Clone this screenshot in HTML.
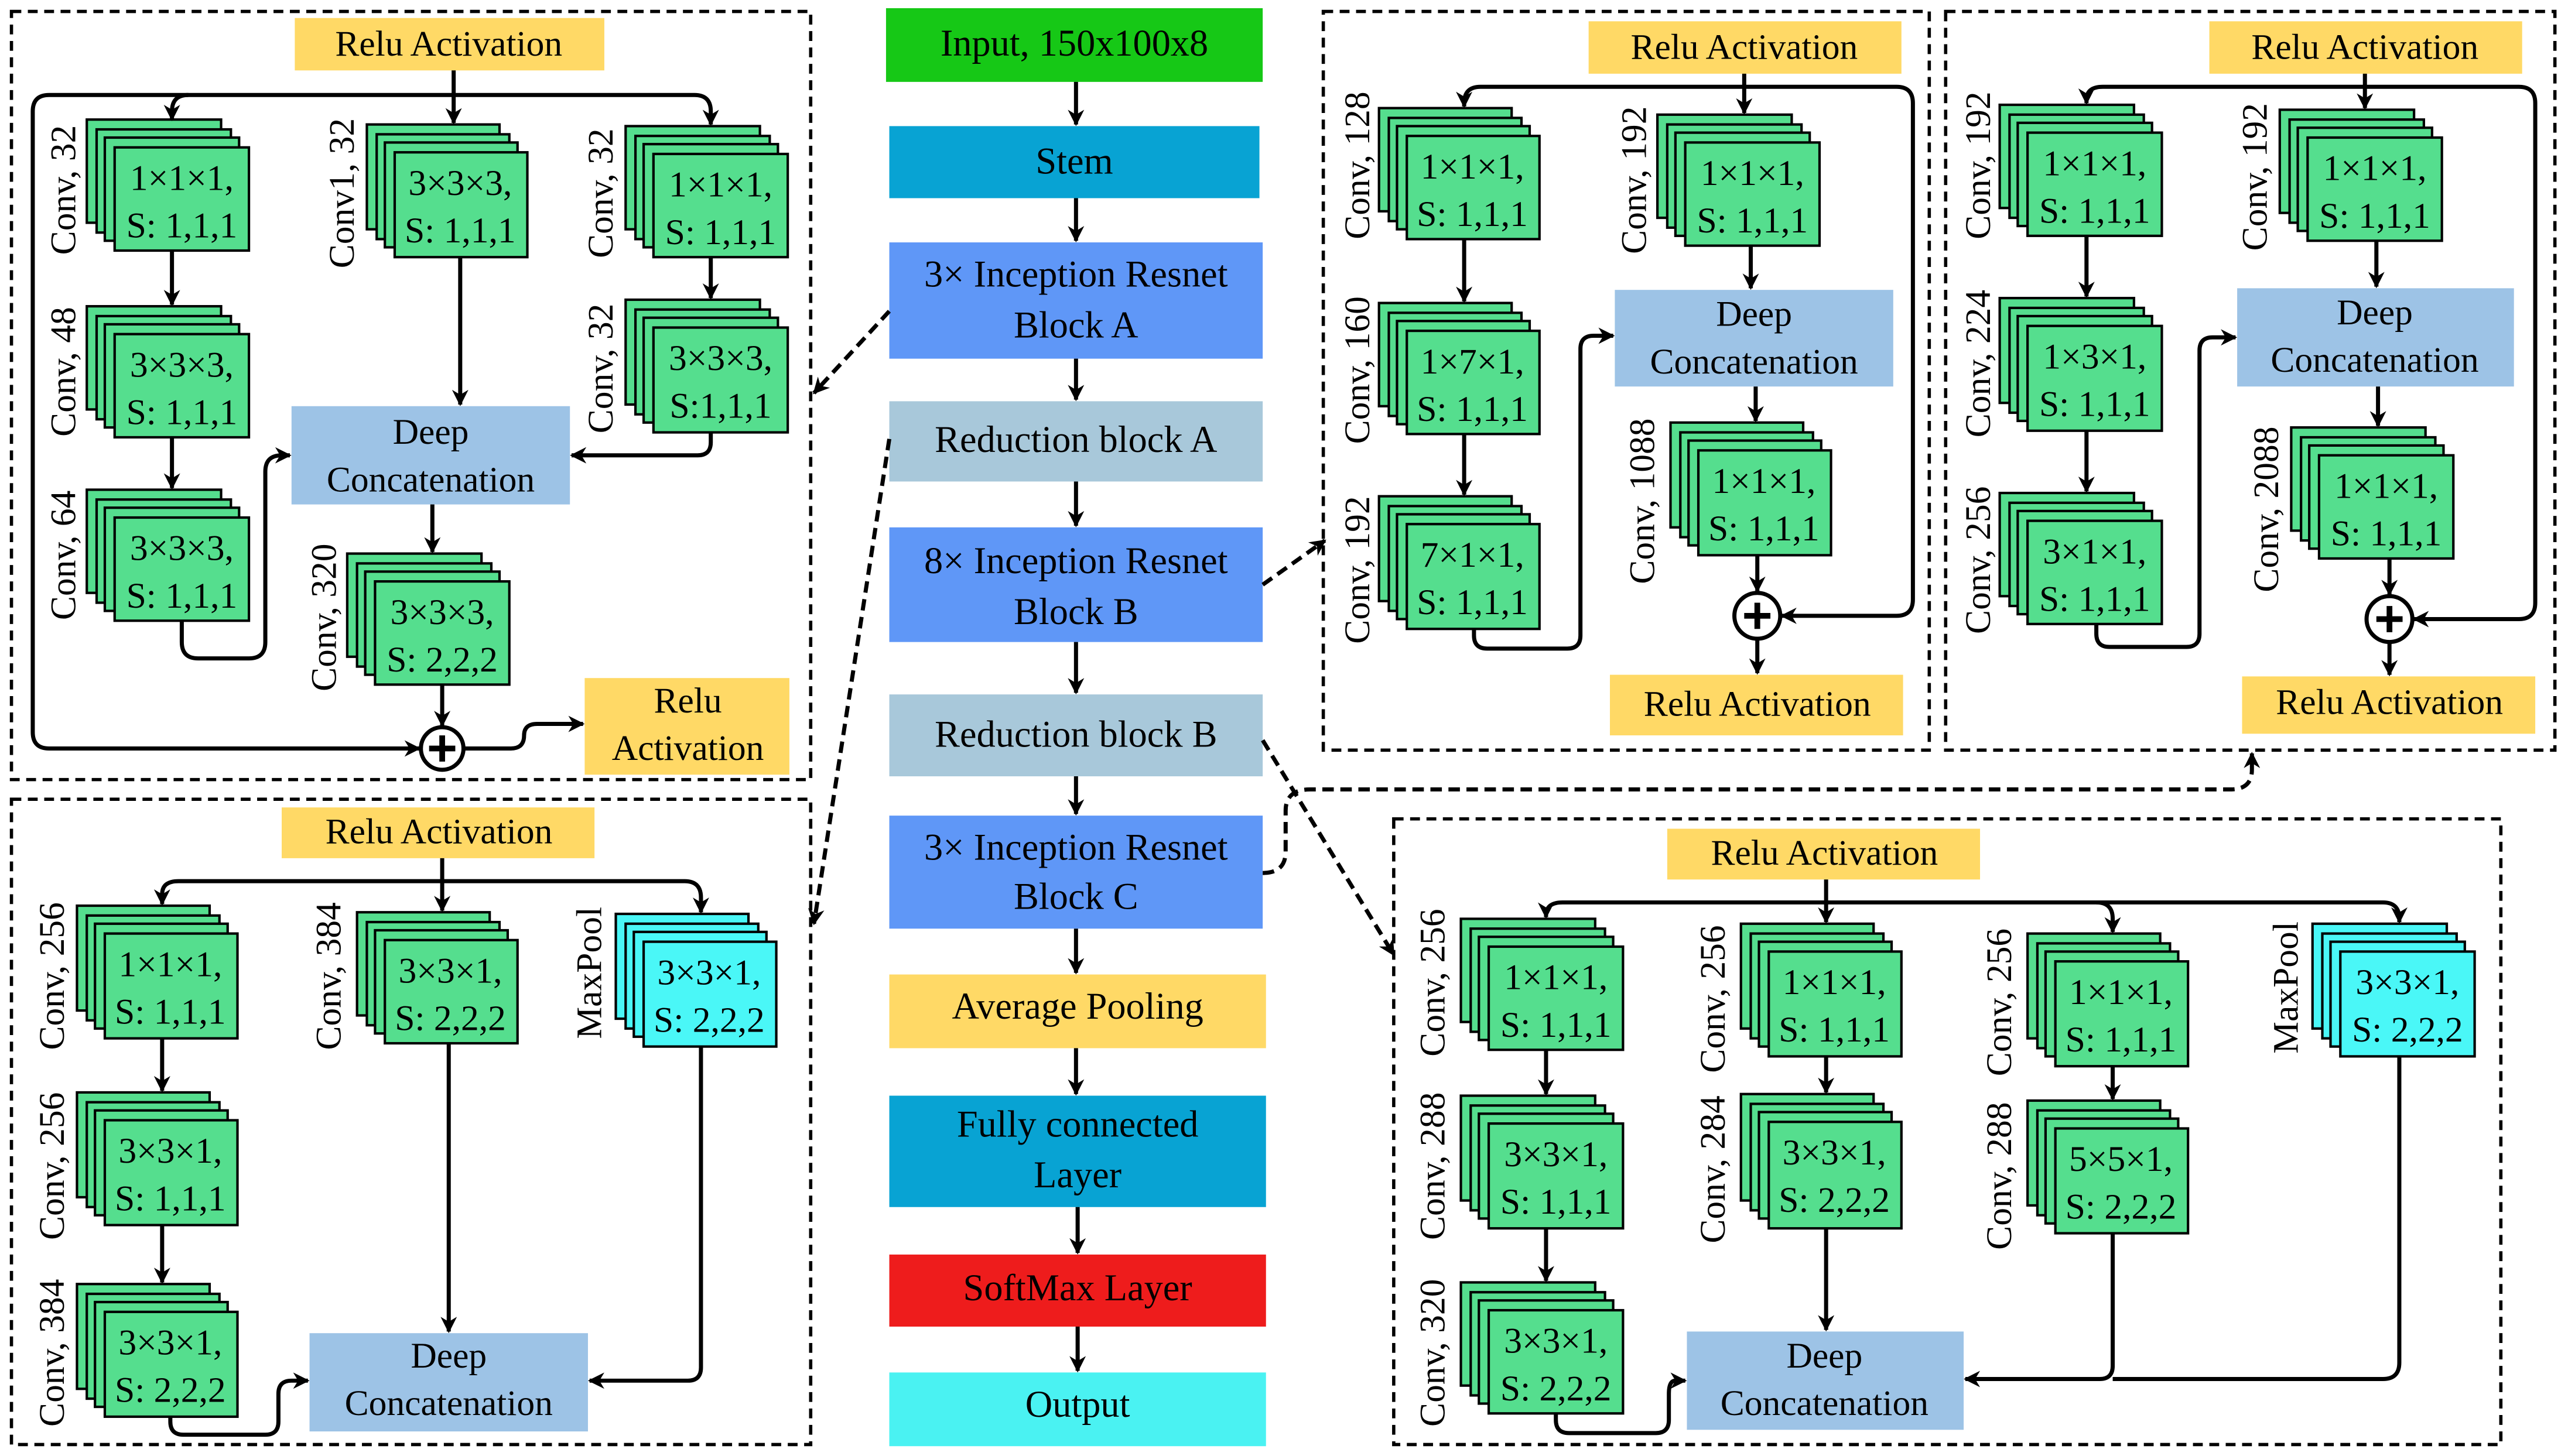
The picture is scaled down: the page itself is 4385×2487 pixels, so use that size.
<!DOCTYPE html>
<html><head><meta charset="utf-8"><style>
html,body{margin:0;padding:0;background:#fff;}
svg{display:block;}
svg text{font-family:"Liberation Serif","DejaVu Serif",serif;fill:#000;}
</style></head><body>
<svg width="4385" height="2487" viewBox="0 0 1568 889" preserveAspectRatio="none" xmlns="http://www.w3.org/2000/svg" font-family="'Liberation Serif', 'DejaVu Serif', serif">
<defs>
<marker id="a" viewBox="0 0 10 10" refX="9" refY="5" markerWidth="10" markerHeight="10" markerUnits="userSpaceOnUse" orient="auto"><path d="M0,0 L10,5 L0,10 L3,5z" fill="#000"/></marker>
</defs>
<rect width="1568" height="889" fill="#fff"/>

<g fill="none" stroke="#000" stroke-width="2" stroke-dasharray="6,4">
<rect x="7" y="7" width="488" height="469"/>
<rect x="808" y="7" width="370" height="451"/>
<rect x="1188" y="7" width="372" height="451"/>
<rect x="7" y="488" width="488" height="394"/>
<rect x="851" y="500" width="676" height="382"/>
</g>

<g text-anchor="middle" font-size="23" font-family="'Liberation Serif', serif">
<rect x="541" y="5" width="230" height="45" fill="#16c816"/><text x="656" y="34">Input, 150x100x8</text>
<rect x="543" y="77" width="226" height="44" fill="#08a3d3"/><text x="656" y="106">Stem</text>
<rect x="543" y="148" width="228" height="71" fill="#5f97f7"/><text x="657" y="175">3× Inception Resnet</text><text x="657" y="206">Block A</text>
<rect x="543" y="245" width="228" height="49" fill="#a8c8da"/><text x="657" y="276">Reduction block A</text>
<rect x="543" y="322" width="228" height="70" fill="#5f97f7"/><text x="657" y="350">8× Inception Resnet</text><text x="657" y="381">Block B</text>
<rect x="543" y="424" width="228" height="50" fill="#a8c8da"/><text x="657" y="456">Reduction block B</text>
<rect x="543" y="498" width="228" height="69" fill="#5f97f7"/><text x="657" y="525">3× Inception Resnet</text><text x="657" y="555">Block C</text>
<rect x="543" y="595" width="230" height="45" fill="#ffd966"/><text x="658" y="622">Average Pooling</text>
<rect x="543" y="669" width="230" height="68" fill="#08a3d3"/><text x="658" y="694">Fully connected</text><text x="658" y="725">Layer</text>
<rect x="543" y="766" width="230" height="44" fill="#ee1c1c"/><text x="658" y="794">SoftMax Layer</text>
<rect x="543" y="838" width="230" height="45" fill="#4af2f2"/><text x="658" y="865">Output</text>
</g>
<g stroke="#000" stroke-width="2.5" fill="none" marker-end="url(#a)">
<path d="M657,50 V76"/><path d="M657,121 V147"/><path d="M657,219 V244"/><path d="M657,294 V321"/><path d="M657,392 V423"/><path d="M657,474 V497"/><path d="M657,567 V594"/><path d="M657,640 V668"/><path d="M658,737 V765"/><path d="M658,810 V837"/>
</g>

<g stroke="#000" stroke-width="2.5" fill="none" stroke-dasharray="7,4" marker-end="url(#a)">
<path d="M543,190 L497,240"/>
<path d="M543,268 L497,564"/>
<path d="M771,357 L809,330"/>
<path d="M771,452 L851,583"/>
<path d="M771,533 Q785,533 785,520 V495 Q785,482 800,482 H1362 Q1375,482 1375,470 V460"/>
</g>

<g font-size="22" text-anchor="middle" font-family="'Liberation Serif', serif">
<rect x="180" y="11" width="189" height="32" fill="#ffd966"/><text x="274" y="34">Relu Activation</text>
<rect x="357" y="414" width="125" height="59" fill="#ffd966"/><text x="420" y="435">Relu</text><text x="420" y="464">Activation</text>
<rect x="178" y="248" width="170" height="60" fill="#9dc3e6"/><text x="263" y="271">Deep</text><text x="263" y="300">Concatenation</text>

<rect x="970" y="13" width="191" height="32" fill="#ffd966"/><text x="1065" y="36">Relu Activation</text>
<rect x="986" y="177" width="170" height="59" fill="#9dc3e6"/><text x="1071" y="199">Deep</text><text x="1071" y="228">Concatenation</text>
<rect x="983" y="412" width="179" height="37" fill="#ffd966"/><text x="1073" y="437">Relu Activation</text>

<rect x="1349" y="13" width="191" height="32" fill="#ffd966"/><text x="1444" y="36">Relu Activation</text>
<rect x="1366" y="176" width="169" height="60" fill="#9dc3e6"/><text x="1450" y="198">Deep</text><text x="1450" y="227">Concatenation</text>
<rect x="1369" y="413" width="179" height="35" fill="#ffd966"/><text x="1459" y="436">Relu Activation</text>

<rect x="172" y="493" width="191" height="31" fill="#ffd966"/><text x="268" y="515">Relu Activation</text>
<rect x="189" y="814" width="170" height="60" fill="#9dc3e6"/><text x="274" y="835">Deep</text><text x="274" y="864">Concatenation</text>

<rect x="1018" y="506" width="191" height="31" fill="#ffd966"/><text x="1114" y="528">Relu Activation</text>
<rect x="1030" y="813" width="169" height="60" fill="#9dc3e6"/><text x="1114" y="835">Deep</text><text x="1114" y="864">Concatenation</text>
</g>

<g stroke="#000" stroke-width="1.5" fill="#55de8e">
<rect x="53" y="73" width="82" height="63"/><rect x="59" y="79" width="82" height="63"/><rect x="64" y="84" width="82" height="63"/><rect x="70" y="90" width="82" height="63"/>
<rect x="53" y="187" width="82" height="63"/><rect x="59" y="193" width="82" height="63"/><rect x="64" y="198" width="82" height="63"/><rect x="70" y="204" width="82" height="63"/>
<rect x="53" y="299" width="82" height="63"/><rect x="59" y="305" width="82" height="63"/><rect x="64" y="310" width="82" height="63"/><rect x="70" y="316" width="82" height="63"/>
<rect x="224" y="76" width="81" height="64"/><rect x="230" y="82" width="81" height="64"/><rect x="235" y="87" width="81" height="64"/><rect x="241" y="93" width="81" height="64"/>
<rect x="382" y="77" width="82" height="63"/><rect x="388" y="83" width="82" height="63"/><rect x="393" y="88" width="82" height="63"/><rect x="399" y="94" width="82" height="63"/>
<rect x="382" y="183" width="82" height="64"/><rect x="388" y="189" width="82" height="64"/><rect x="393" y="194" width="82" height="64"/><rect x="399" y="200" width="82" height="64"/>
<rect x="212" y="338" width="82" height="63"/><rect x="218" y="344" width="82" height="63"/><rect x="223" y="349" width="82" height="63"/><rect x="229" y="355" width="82" height="63"/>
<rect x="842" y="66" width="81" height="63"/><rect x="848" y="72" width="81" height="63"/><rect x="853" y="77" width="81" height="63"/><rect x="859" y="83" width="81" height="63"/>
<rect x="842" y="185" width="81" height="63"/><rect x="848" y="191" width="81" height="63"/><rect x="853" y="196" width="81" height="63"/><rect x="859" y="202" width="81" height="63"/>
<rect x="842" y="303" width="81" height="64"/><rect x="848" y="309" width="81" height="64"/><rect x="853" y="314" width="81" height="64"/><rect x="859" y="320" width="81" height="64"/>
<rect x="1012" y="70" width="82" height="63"/><rect x="1018" y="76" width="82" height="63"/><rect x="1023" y="81" width="82" height="63"/><rect x="1029" y="87" width="82" height="63"/>
<rect x="1020" y="258" width="81" height="64"/><rect x="1026" y="264" width="81" height="64"/><rect x="1031" y="269" width="81" height="64"/><rect x="1037" y="275" width="81" height="64"/>
<rect x="1221" y="64" width="82" height="63"/><rect x="1227" y="70" width="82" height="63"/><rect x="1232" y="75" width="82" height="63"/><rect x="1238" y="81" width="82" height="63"/>
<rect x="1221" y="182" width="82" height="64"/><rect x="1227" y="188" width="82" height="64"/><rect x="1232" y="193" width="82" height="64"/><rect x="1238" y="199" width="82" height="64"/>
<rect x="1221" y="301" width="82" height="63"/><rect x="1227" y="307" width="82" height="63"/><rect x="1232" y="312" width="82" height="63"/><rect x="1238" y="318" width="82" height="63"/>
<rect x="1392" y="67" width="82" height="63"/><rect x="1398" y="73" width="82" height="63"/><rect x="1403" y="78" width="82" height="63"/><rect x="1409" y="84" width="82" height="63"/>
<rect x="1399" y="261" width="82" height="63"/><rect x="1405" y="267" width="82" height="63"/><rect x="1410" y="272" width="82" height="63"/><rect x="1416" y="278" width="82" height="63"/>
<rect x="47" y="553" width="81" height="64"/><rect x="53" y="559" width="81" height="64"/><rect x="58" y="564" width="81" height="64"/><rect x="64" y="570" width="81" height="64"/>
<rect x="47" y="667" width="81" height="64"/><rect x="53" y="673" width="81" height="64"/><rect x="58" y="678" width="81" height="64"/><rect x="64" y="684" width="81" height="64"/>
<rect x="47" y="784" width="81" height="64"/><rect x="53" y="790" width="81" height="64"/><rect x="58" y="795" width="81" height="64"/><rect x="64" y="801" width="81" height="64"/>
<rect x="218" y="557" width="81" height="63"/><rect x="224" y="563" width="81" height="63"/><rect x="229" y="568" width="81" height="63"/><rect x="235" y="574" width="81" height="63"/>
<rect x="892" y="561" width="82" height="63"/><rect x="898" y="567" width="82" height="63"/><rect x="903" y="572" width="82" height="63"/><rect x="909" y="578" width="82" height="63"/>
<rect x="892" y="669" width="82" height="64"/><rect x="898" y="675" width="82" height="64"/><rect x="903" y="680" width="82" height="64"/><rect x="909" y="686" width="82" height="64"/>
<rect x="892" y="783" width="82" height="63"/><rect x="898" y="789" width="82" height="63"/><rect x="903" y="794" width="82" height="63"/><rect x="909" y="800" width="82" height="63"/>
<rect x="1063" y="564" width="81" height="64"/><rect x="1069" y="570" width="81" height="64"/><rect x="1074" y="575" width="81" height="64"/><rect x="1080" y="581" width="81" height="64"/>
<rect x="1063" y="668" width="81" height="65"/><rect x="1069" y="674" width="81" height="65"/><rect x="1074" y="679" width="81" height="65"/><rect x="1080" y="685" width="81" height="65"/>
<rect x="1238" y="570" width="81" height="64"/><rect x="1244" y="576" width="81" height="64"/><rect x="1249" y="581" width="81" height="64"/><rect x="1255" y="587" width="81" height="64"/>
<rect x="1238" y="672" width="81" height="64"/><rect x="1244" y="678" width="81" height="64"/><rect x="1249" y="683" width="81" height="64"/><rect x="1255" y="689" width="81" height="64"/>
</g>
<g stroke="#000" stroke-width="1.5" fill="#4af7f7">
<rect x="376" y="558" width="81" height="64"/><rect x="382" y="564" width="81" height="64"/><rect x="387" y="569" width="81" height="64"/><rect x="393" y="575" width="81" height="64"/>
<rect x="1412" y="564" width="82" height="64"/><rect x="1418" y="570" width="82" height="64"/><rect x="1423" y="575" width="82" height="64"/><rect x="1429" y="581" width="82" height="64"/>
</g>

<g font-size="22" text-anchor="middle" font-family="'Liberation Serif', serif">
<text x="111" y="116">1×1×1,</text><text x="111" y="145">S: 1,1,1</text>
<text x="111" y="230">3×3×3,</text><text x="111" y="259">S: 1,1,1</text>
<text x="111" y="342">3×3×3,</text><text x="111" y="371">S: 1,1,1</text>
<text x="281" y="119">3×3×3,</text><text x="281" y="148">S: 1,1,1</text>
<text x="440" y="120">1×1×1,</text><text x="440" y="149">S: 1,1,1</text>
<text x="440" y="226">3×3×3,</text><text x="440" y="255">S:1,1,1</text>
<text x="270" y="381">3×3×3,</text><text x="270" y="410">S: 2,2,2</text>

<text x="899" y="109">1×1×1,</text><text x="899" y="138">S: 1,1,1</text>
<text x="899" y="228">1×7×1,</text><text x="899" y="257">S: 1,1,1</text>
<text x="899" y="346">7×1×1,</text><text x="899" y="375">S: 1,1,1</text>
<text x="1070" y="113">1×1×1,</text><text x="1070" y="142">S: 1,1,1</text>
<text x="1077" y="301">1×1×1,</text><text x="1077" y="330">S: 1,1,1</text>

<text x="1279" y="107">1×1×1,</text><text x="1279" y="136">S: 1,1,1</text>
<text x="1279" y="225">1×3×1,</text><text x="1279" y="254">S: 1,1,1</text>
<text x="1279" y="344">3×1×1,</text><text x="1279" y="373">S: 1,1,1</text>
<text x="1450" y="110">1×1×1,</text><text x="1450" y="139">S: 1,1,1</text>
<text x="1457" y="304">1×1×1,</text><text x="1457" y="333">S: 1,1,1</text>

<text x="104" y="596">1×1×1,</text><text x="104" y="625">S: 1,1,1</text>
<text x="104" y="710">3×3×1,</text><text x="104" y="739">S: 1,1,1</text>
<text x="104" y="827">3×3×1,</text><text x="104" y="856">S: 2,2,2</text>
<text x="275" y="600">3×3×1,</text><text x="275" y="629">S: 2,2,2</text>
<text x="433" y="601">3×3×1,</text><text x="433" y="630">S: 2,2,2</text>

<text x="950" y="604">1×1×1,</text><text x="950" y="633">S: 1,1,1</text>
<text x="950" y="712">3×3×1,</text><text x="950" y="741">S: 1,1,1</text>
<text x="950" y="826">3×3×1,</text><text x="950" y="855">S: 2,2,2</text>
<text x="1120" y="607">1×1×1,</text><text x="1120" y="636">S: 1,1,1</text>
<text x="1120" y="711">3×3×1,</text><text x="1120" y="740">S: 2,2,2</text>
<text x="1295" y="613">1×1×1,</text><text x="1295" y="642">S: 1,1,1</text>
<text x="1295" y="715">5×5×1,</text><text x="1295" y="744">S: 2,2,2</text>
<text x="1470" y="607">3×3×1,</text><text x="1470" y="636">S: 2,2,2</text>
</g>

<g font-size="22" text-anchor="middle" font-family="'Liberation Serif', serif">
<text transform="translate(46,116) rotate(-90)">Conv, 32</text>
<text transform="translate(46,227) rotate(-90)">Conv, 48</text>
<text transform="translate(46,339) rotate(-90)">Conv, 64</text>
<text transform="translate(216,118) rotate(-90)">Conv1, 32</text>
<text transform="translate(374,118) rotate(-90)">Conv, 32</text>
<text transform="translate(374,225) rotate(-90)">Conv, 32</text>
<text transform="translate(205,377) rotate(-90)">Conv, 320</text>

<text transform="translate(836,101) rotate(-90)">Conv, 128</text>
<text transform="translate(836,226) rotate(-90)">Conv, 160</text>
<text transform="translate(836,348) rotate(-90)">Conv, 192</text>
<text transform="translate(1005,110) rotate(-90)">Conv, 192</text>
<text transform="translate(1010,306) rotate(-90)">Conv, 1088</text>

<text transform="translate(1215,101) rotate(-90)">Conv, 192</text>
<text transform="translate(1215,222) rotate(-90)">Conv, 224</text>
<text transform="translate(1215,342) rotate(-90)">Conv, 256</text>
<text transform="translate(1384,108) rotate(-90)">Conv, 192</text>
<text transform="translate(1391,311) rotate(-90)">Conv, 2088</text>

<text transform="translate(39,596) rotate(-90)">Conv, 256</text>
<text transform="translate(39,712) rotate(-90)">Conv, 256</text>
<text transform="translate(39,826) rotate(-90)">Conv, 384</text>
<text transform="translate(208,596) rotate(-90)">Conv, 384</text>
<text transform="translate(367,594) rotate(-90)">MaxPool</text>

<text transform="translate(882,600) rotate(-90)">Conv, 256</text>
<text transform="translate(882,712) rotate(-90)">Conv, 288</text>
<text transform="translate(882,826) rotate(-90)">Conv, 320</text>
<text transform="translate(1053,610) rotate(-90)">Conv, 256</text>
<text transform="translate(1053,714) rotate(-90)">Conv, 284</text>
<text transform="translate(1228,612) rotate(-90)">Conv, 256</text>
<text transform="translate(1228,718) rotate(-90)">Conv, 288</text>
<text transform="translate(1403,603) rotate(-90)">MaxPool</text>
</g>

<g stroke="#000" stroke-width="2.5" fill="none" marker-end="url(#a)">
<path d="M277,43 V75"/>
<path d="M277,58 H115 Q105,58 105,68 V73"/>
<path d="M277,58 H424 Q434,58 434,68 V76"/>
<path d="M115,58 H30 Q20,58 20,68 V447 Q20,457 30,457 H256"/>
<path d="M105,153 V186"/><path d="M105,267 V298"/>
<path d="M111,379 V392 Q111,402 121,402 H152 Q162,402 162,392 V288 Q162,278 172,278 H177"/>
<path d="M281,157 V247"/>
<path d="M434,157 V182"/>
<path d="M434,264 V270 Q434,278 426,278 H349"/>
<path d="M264,308 V337"/>
<path d="M270,418 V443"/>
<path d="M283,457 H312 Q320,457 320,449 Q320,442 328,442 H356"/>
<path d="M1065,45 V69"/>
<path d="M1065,53 H904 Q894,53 894,63 V65"/>
<path d="M1065,53 H1158 Q1168,53 1168,63 V366 Q1168,376 1158,376 H1088"/>
<path d="M894,146 V184"/><path d="M894,265 V302"/>
<path d="M900,384 V388 Q900,396 908,396 H957 Q965,396 965,388 V213 Q965,205 973,205 H985"/>
<path d="M1069,150 V176"/>
<path d="M1072,236 V257"/>
<path d="M1073,339 V361"/>
<path d="M1073,390 V411"/>
<path d="M1444,45 V66"/>
<path d="M1444,53 H1284 Q1274,53 1274,61 V63"/>
<path d="M1444,53 H1538 Q1548,53 1548,63 V368 Q1548,378 1538,378 H1474"/>
<path d="M1274,144 V181"/><path d="M1274,263 V300"/>
<path d="M1280,381 V387 Q1280,395 1288,395 H1335 Q1343,395 1343,387 V214 Q1343,206 1351,206 H1365"/>
<path d="M1451,147 V175"/>
<path d="M1452,236 V260"/>
<path d="M1459,341 V363"/>
<path d="M1459,392 V412"/>
<path d="M270,524 V556"/>
<path d="M270,538 H109 Q99,538 99,546 V552"/>
<path d="M270,538 H418 Q428,538 428,548 V557"/>
<path d="M99,634 V666"/><path d="M99,748 V783"/>
<path d="M104,865 V868 Q104,876 112,876 H162 Q170,876 170,868 V851 Q170,843 178,843 H188"/>
<path d="M274,637 V813"/>
<path d="M428,639 V835 Q428,843 420,843 H360"/>
<path d="M1115,537 V563"/>
<path d="M1115,551 H954 Q944,551 944,559 V560"/>
<path d="M1115,551 H1280 Q1290,551 1290,561 V569"/>
<path d="M1280,551 H1455 Q1465,551 1465,561 V563"/>
<path d="M944,641 V668"/><path d="M944,750 V782"/>
<path d="M950,863 V867 Q950,875 958,875 H1011 Q1019,875 1019,867 V851 Q1019,843 1023,843 H1029"/>
<path d="M1115,645 V667"/><path d="M1115,750 V812"/>
<path d="M1290,651 V671"/>
<path d="M1290,753 V834 Q1290,842 1282,842 H1200"/>
</g>
<path d="M1465,645 V832 Q1465,842 1455,842 H1290" stroke="#000" stroke-width="2.5" fill="none"/>

<g stroke="#000" stroke-width="2.5" fill="#fff">
<circle cx="270" cy="457" r="13"/>
<circle cx="1073" cy="376" r="14"/>
<circle cx="1459" cy="378" r="14"/>
</g>
<g stroke="#000" stroke-width="3.5">
<path d="M262,457 H278 M270,449 V465"/>
<path d="M1065,376 H1081 M1073,368 V384"/>
<path d="M1451,378 H1467 M1459,370 V386"/>
</g>
</svg>
</body></html>
